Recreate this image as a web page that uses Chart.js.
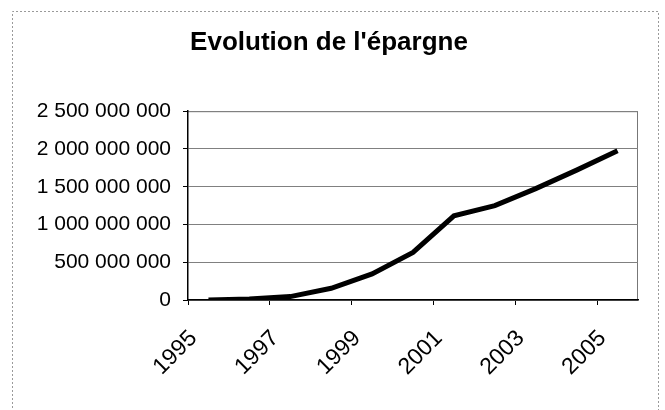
<!DOCTYPE html>
<html>
<head>
<meta charset="utf-8">
<script src="https://cdn.jsdelivr.net/npm/chart.js@4"></script>
<style>
  body { margin: 0; background: #fff; }
  #wrap { width: 665px; height: 410px; position: relative; }
</style>
</head>
<body>
<div id="wrap"><canvas id="epargneChart" width="665" height="410"></canvas></div>
<script>
// annees et montants
const years = ['1995', '1996', '1997', '1998', '1999', '2000', '2001', '2002', '2003', '2004', '2005'];
const savings = [0, 12000000, 45000000, 155000000, 345000000, 630000000, 1115000000, 1250000000, 1475000000, 1720000000, 1975000000];
const yTicks = [0, 500000000, 1000000000, 1500000000, 2000000000, 2500000000];

function formatSpaces(v) {
    return String(v).replace(/\B(?=(\d{3})+(?!\d))/g, ' ');
}

// cadre pointille autour du graphique + bord du trace
const framePlugin = {
    id: 'frame',
    beforeDraw(chart) {
        let ctx = chart.ctx;
        ctx.save();
        ctx.strokeStyle = '#9a9a9a';
        ctx.lineWidth = 1;
        ctx.setLineDash([2, 2]);
        ctx.beginPath();
        ctx.moveTo(12.5, 420);
        ctx.lineTo(12.5, 11.5);
        ctx.lineTo(658.5, 11.5);
        ctx.lineTo(658.5, 420);
        ctx.stroke();
        let a = chart.chartArea;
        ctx.strokeStyle = '#777';
        ctx.setLineDash([]);
        ctx.beginPath();
        ctx.moveTo(a.left, a.top + 0.5);
        ctx.lineTo(a.right - 0.5, a.top + 0.5);
        ctx.lineTo(a.right - 0.5, a.bottom);
        ctx.stroke();
        ctx.restore();
    }
};

let ctx = document.getElementById('epargneChart').getContext('2d');
new Chart(ctx, {
    type: 'line',
    data: {
        labels: years,
        datasets: [{
            data: savings,
            borderColor: '#000',
            borderWidth: 5,
            pointRadius: 0,
            tension: 0,
            fill: false
        }]
    },
    options: {
        responsive: false,
        animation: false,
        devicePixelRatio: 1,
        layout: { padding: { left: 20, right: 27, top: 0, bottom: 0 } },
        plugins: {
            legend: { display: false },
            tooltip: { enabled: false },
            title: {
                display: true,
                text: "Evolution de l'épargne",
                color: '#000',
                font: { family: 'Liberation Sans, Arial, sans-serif', size: 26, weight: 'bold', lineHeight: 1.2 },
                padding: { top: 27, bottom: 53 }
            }
        },
        scales: {
            x: {
                type: 'category',
                offset: true,
                grid: {
                    offset: true,
                    drawOnChartArea: false,
                    drawTicks: true,
                    tickLength: 5,
                    color: c => (c.index % 2 === 0 && c.index < years.length) ? '#000' : 'rgba(0,0,0,0)'
                },
                border: { color: '#000', width: 1.5 },
                ticks: {
                    autoSkip: false,
                    minRotation: 45,
                    maxRotation: 45,
                    labelOffset: -15,
                    padding: 20,
                    color: '#000',
                    font: { family: 'Liberation Sans, Arial, sans-serif', size: 23 },
                    callback: function(value, index) {
                        return index % 2 === 0 ? years[index] : '';
                    }
                },
                afterFit: scale => { scale.height = 110; }
            },
            y: {
                min: 0,
                max: 2500000000,
                afterBuildTicks: scale => { scale.ticks = yTicks.map(v => ({ value: v })); },
                grid: {
                    color: '#808080',
                    lineWidth: 1,
                    tickLength: 5,
                    tickColor: '#000'
                },
                border: { color: '#000', width: 1.5 },
                ticks: {
                    padding: 12,
                    color: '#000',
                    font: { family: 'Liberation Sans, Arial, sans-serif', size: 21 },
                    callback: v => formatSpaces(v)
                },
                afterFit: scale => { scale.width = 168; }
            }
        }
    },
    plugins: [framePlugin]
});
</script>
</body>
</html>
